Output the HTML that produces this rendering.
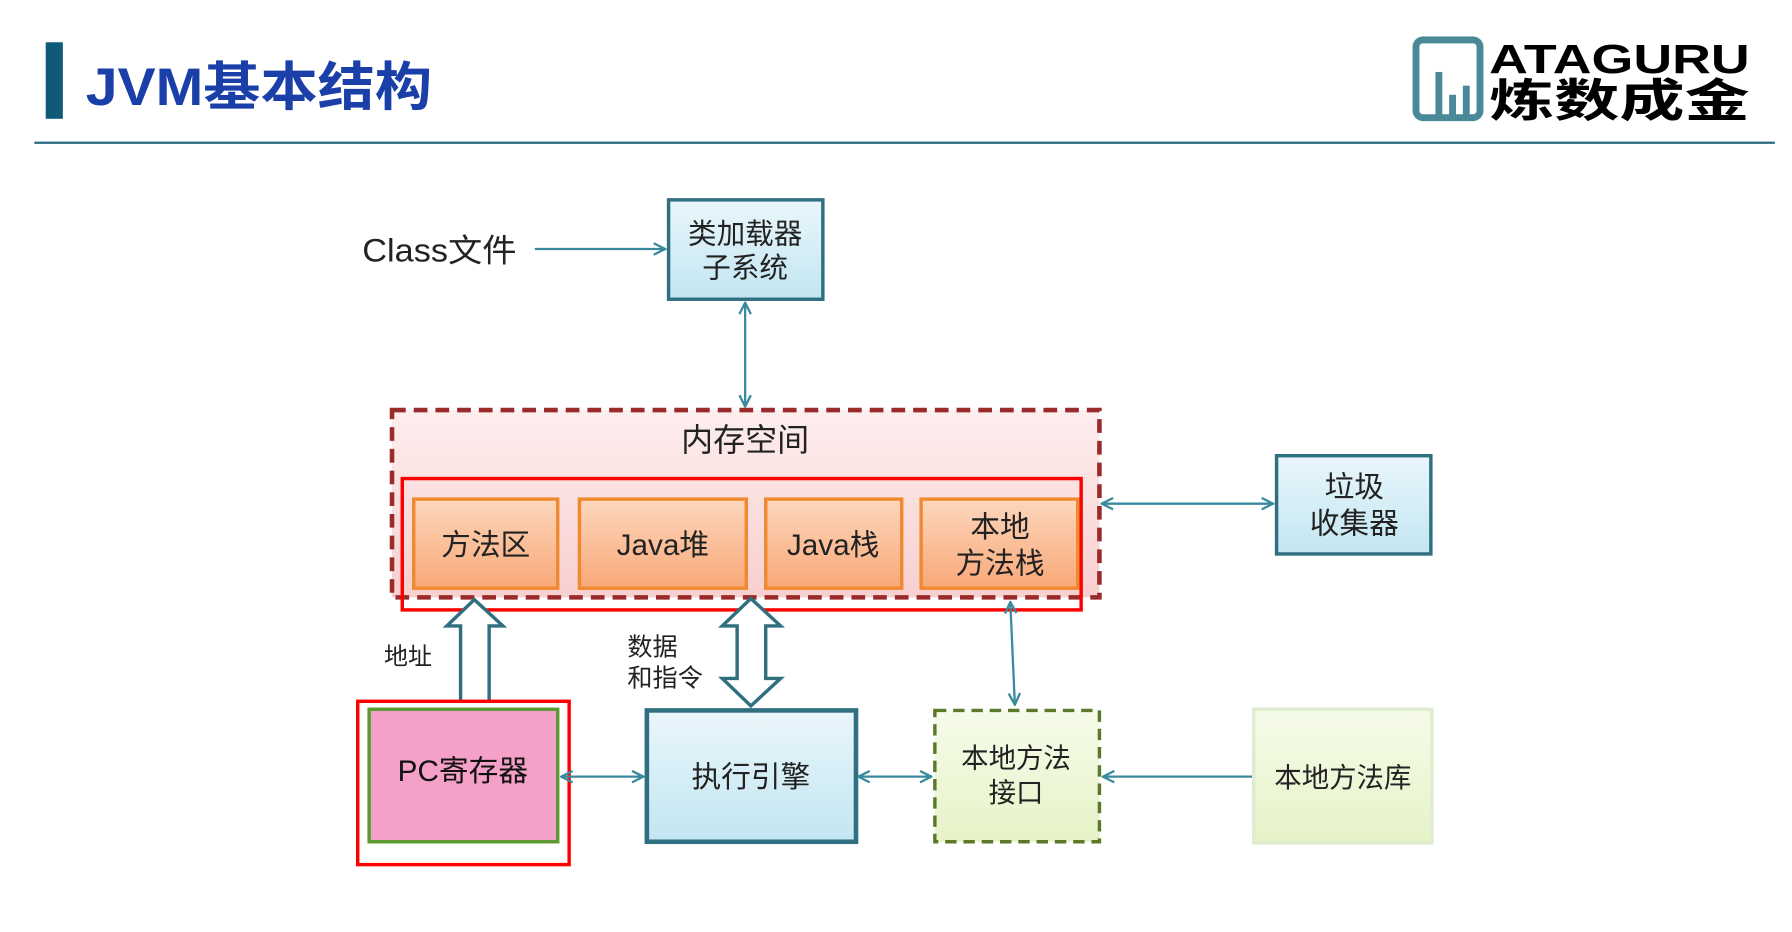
<!DOCTYPE html>
<html><head><meta charset="utf-8"><style>
html,body{margin:0;padding:0;background:#fff;width:1792px;height:932px;overflow:hidden}
svg{display:block}
text{font-family:"Liberation Sans","Noto Sans CJK SC",sans-serif}
</style></head><body>
<svg width="1792" height="932" viewBox="0 0 1568 816" preserveAspectRatio="none" xmlns="http://www.w3.org/2000/svg">
<defs>
<linearGradient id="blue" x1="0" y1="0" x2="0" y2="1"><stop offset="0" stop-color="#eaf6fb"/><stop offset="1" stop-color="#c2e6f2"/></linearGradient>
<linearGradient id="orng" x1="0" y1="0" x2="0" y2="1"><stop offset="0" stop-color="#fcd7bd"/><stop offset="1" stop-color="#f9a878"/></linearGradient>
<linearGradient id="pink" x1="0" y1="0" x2="0" y2="1"><stop offset="0" stop-color="#fdeeee"/><stop offset="1" stop-color="#f8cfcf"/></linearGradient>
<linearGradient id="grn" x1="0" y1="0" x2="0" y2="1"><stop offset="0" stop-color="#f6fbea"/><stop offset="1" stop-color="#e6f3c8"/></linearGradient>
<marker id="ah" viewBox="0 0 12 12" refX="11" refY="6" markerWidth="12" markerHeight="12" orient="auto-start-reverse" markerUnits="userSpaceOnUse"><path d="M1 1 L11 6 L1 11" fill="none" stroke="#3a8a9e" stroke-width="2"/></marker>
</defs>
<rect x="40" y="37" width="15" height="67" fill="#0f5a78"/>
<text x="75" y="92" font-size="46" font-weight="bold" fill="#1a3fa8" textLength="303" lengthAdjust="spacingAndGlyphs">JVM基本结构</text>
<rect x="1239" y="35" width="56" height="68" rx="6" fill="none" stroke="#4a8a98" stroke-width="6"/>
<rect x="1256" y="63" width="6" height="40" fill="#4a8a98"/><rect x="1268" y="83" width="6" height="20" fill="#4a8a98"/><rect x="1280" y="75" width="6" height="28" fill="#4a8a98"/>
<text x="1303" y="64" font-size="36" font-weight="bold" fill="#000" textLength="228" lengthAdjust="spacingAndGlyphs">ATAGURU</text>
<text x="1303" y="102" font-size="40" font-weight="bold" fill="#000" textLength="228" lengthAdjust="spacingAndGlyphs">炼数成金</text>
<line x1="30" y1="125" x2="1553" y2="125" stroke="#2a6a80" stroke-width="2"/>
<text x="317" y="229" font-size="28" fill="#222" textLength="135" lengthAdjust="spacingAndGlyphs">Class文件</text>
<line x1="468" y1="218" x2="582" y2="218" stroke="#3a8a9e" stroke-width="2" marker-end="url(#ah)"/>
<rect x="585" y="175" width="135" height="87" fill="url(#blue)" stroke="#2f6f80" stroke-width="3"/>
<text x="652" y="213" font-size="25" fill="#222" text-anchor="middle">类加载器</text>
<text x="652" y="243" font-size="25" fill="#222" text-anchor="middle">子系统</text>
<line x1="652" y1="265" x2="652" y2="356" stroke="#3a8a9e" stroke-width="2" marker-start="url(#ah)" marker-end="url(#ah)"/>
<rect x="343" y="359" width="619" height="164" fill="url(#pink)" stroke="#9b2b2b" stroke-width="4" stroke-dasharray="12,7"/>
<text x="652" y="395" font-size="28" fill="#222" text-anchor="middle">内存空间</text>
<g stroke="#f08a30" stroke-width="3" fill="url(#orng)">
<rect x="362" y="437" width="126" height="78"/><rect x="507" y="437" width="146" height="78"/><rect x="670" y="437" width="119" height="78"/><rect x="806" y="437" width="137" height="78"/></g>
<g font-size="26" fill="#222" text-anchor="middle">
<text x="425" y="486">方法区</text><text x="580" y="486">Java堆</text><text x="729" y="486">Java栈</text>
<text x="875" y="470">本地</text><text x="875" y="502">方法栈</text></g>
<rect x="352" y="419" width="594" height="115" fill="none" stroke="#f00" stroke-width="3"/>
<line x1="964" y1="441" x2="1114" y2="441" stroke="#3a8a9e" stroke-width="2" marker-start="url(#ah)" marker-end="url(#ah)"/>
<rect x="1117" y="399" width="135" height="86" fill="url(#blue)" stroke="#2f6f80" stroke-width="3"/>
<text x="1185" y="435" font-size="26" fill="#222" text-anchor="middle">垃圾</text>
<text x="1185" y="467" font-size="26" fill="#222" text-anchor="middle">收集器</text>
<path d="M403 615 L403 548 L391 548 L415 525 L440 548 L428 548 L428 615" fill="#fff" stroke="#2f6f80" stroke-width="3"/>
<path d="M645 548 L632 548 L657 524 L683 548 L670 548 L670 594 L683 594 L657 618 L632 594 L645 594 Z" fill="#fff" stroke="#2f6f80" stroke-width="3"/>
<text x="336" y="582" font-size="21" fill="#222">地址</text>
<text x="549" y="574" font-size="22" fill="#222">数据</text>
<text x="549" y="601" font-size="22" fill="#222">和指令</text>
<line x1="884" y1="527" x2="888" y2="617" stroke="#3a8a9e" stroke-width="2" marker-start="url(#ah)" marker-end="url(#ah)"/>
<rect x="323" y="621" width="165" height="116" fill="#f5a0c8" stroke="#5a9a30" stroke-width="3"/>
<rect x="313" y="614" width="185" height="143" fill="none" stroke="#f00" stroke-width="3"/>
<text x="405" y="684" font-size="26" fill="#111" text-anchor="middle">PC寄存器</text>
<line x1="491" y1="680" x2="563" y2="680" stroke="#3a8a9e" stroke-width="2" marker-start="url(#ah)" marker-end="url(#ah)"/>
<rect x="566" y="622" width="183" height="115" fill="url(#blue)" stroke="#2f6f80" stroke-width="4"/>
<text x="657" y="689" font-size="26" fill="#222" text-anchor="middle">执行引擎</text>
<line x1="751" y1="680" x2="815" y2="680" stroke="#3a8a9e" stroke-width="2" marker-start="url(#ah)" marker-end="url(#ah)"/>
<rect x="818" y="622" width="144" height="115" fill="url(#grn)" stroke="#5a7a2a" stroke-width="3" stroke-dasharray="10,6"/>
<text x="889" y="672" font-size="24" fill="#222" text-anchor="middle">本地方法</text>
<text x="889" y="702" font-size="24" fill="#222" text-anchor="middle">接口</text>
<line x1="965" y1="680" x2="1096" y2="680" stroke="#3a8a9e" stroke-width="2" marker-start="url(#ah)"/>
<rect x="1097" y="621" width="156" height="117" fill="url(#grn)" stroke="#e0ecd0" stroke-width="3"/>
<text x="1175" y="689" font-size="24" fill="#222" text-anchor="middle">本地方法库</text>
</svg>
</body></html>
